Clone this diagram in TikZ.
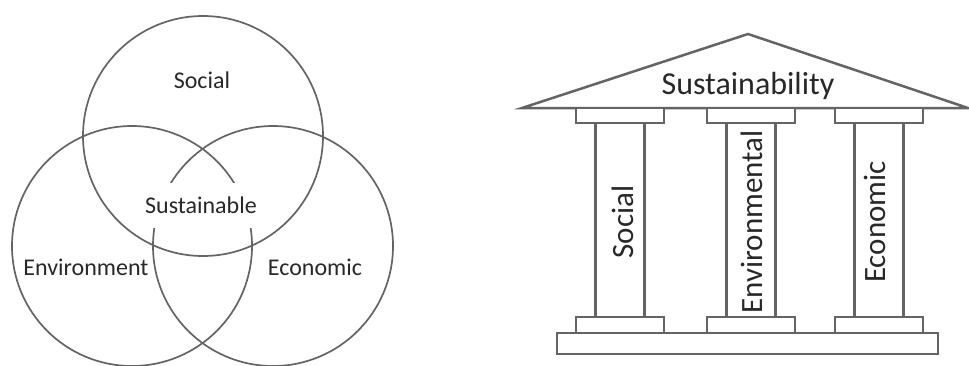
\documentclass[tikz,border=0pt]{standalone}
\usepackage{fontspec}
\setmainfont{Carlito}
\usetikzlibrary{positioning}
\definecolor{LineGray}{RGB}{100,100,100}
\definecolor{InkGray}{RGB}{40,40,40}

\begin{document}
\begin{tikzpicture}[
        x=1pt, y=-1pt,
        ring/.style={draw=LineGray, line width=1.7pt},
        slab/.style={draw=LineGray, line width=2.5pt, fill=white},
        venntext/.style={text=InkGray, inner sep=0pt, font=\fontsize{24}{28}\selectfont},
        pillartext/.style={text=InkGray, inner sep=0pt, rotate=90, font=\fontsize{31}{36}\selectfont},
        cutout/.style={venntext, fill=white, minimum height=45pt}
    ]
        \useasboundingbox (0,0) rectangle (969,365);

        % three circles
        \draw[ring] (203,136) circle [radius=120pt];
        \draw[ring] (132,246) circle [radius=120pt];
        \draw[ring] (273,246) circle [radius=120pt];

        \node[venntext, anchor=base] (social) at (202,88) {Social};
        \node[cutout] (sust) at (201,205) {Sustainable};
        \node[venntext, anchor=base] (envir) at (86,275) {Environment};
        \node[venntext, anchor=base] (econ) at (315,275) {Economic};

        % temple
        \draw[slab] (522,108) -- (748,34) -- (968,108) -- cycle;
        \node[text=InkGray, inner sep=0pt, anchor=base, font=\fontsize{32}{36}\selectfont] (roof) at (748,94) {Sustainability};
        \draw[slab] (557,333) rectangle (938,354);
        \foreach \cx/\tx/\word in {620/623/Social, 751/752/Environmental, 879/875/Economic} {
            \draw[slab] (\cx-44,108) rectangle (\cx+44,123);
            \draw[slab] (\cx-24.5,123) rectangle (\cx+24.5,317);
            \draw[slab] (\cx-44,317) rectangle (\cx+44,333);
            \node[pillartext] (p-\word) at (\tx,222) {\word};
        }
    \end{tikzpicture}
\end{document}
